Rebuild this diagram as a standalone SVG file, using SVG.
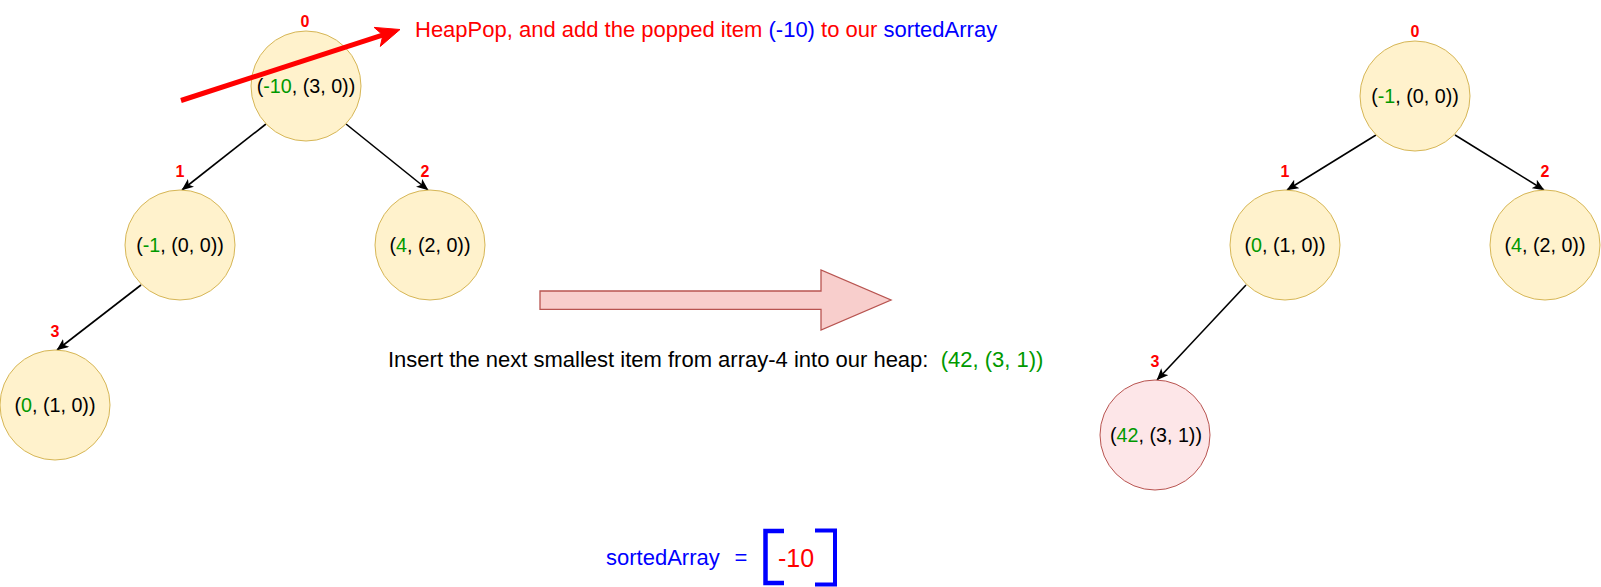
<svg xmlns="http://www.w3.org/2000/svg" width="1601" height="587" viewBox="0 0 1601 587">
<style>
text{font-family:"Liberation Sans",Arial,Helvetica,sans-serif}
.node{fill:#fff2cc;stroke:#d6b656;stroke-width:1}
.pink{fill:#fde6e8;stroke:#b85450;stroke-width:1}
.nt{font-size:19.7px;fill:#000;text-anchor:middle}
.g{fill:#009900}
.idx{font-size:16px;font-weight:bold;fill:#ff0000;text-anchor:middle}
.edge{stroke:#000;stroke-width:1.6;fill:none;marker-end:url(#ah)}
.big{font-size:22px}
</style>
<defs>
<marker id="ah" viewBox="0 0 12 10" refX="11.5" refY="5" markerWidth="12" markerHeight="10" markerUnits="userSpaceOnUse" orient="auto">
<path d="M0,0 L12,5 L0,10 L3,5 Z" fill="#000"/>
</marker>
</defs>
<rect width="1601" height="587" fill="#fff"/>

<g id="connectors">
<line class="edge" x1="266" y1="124" x2="182" y2="190"/>
<line class="edge" x1="346" y1="124" x2="428" y2="190"/>
<line class="edge" x1="141" y1="285" x2="57" y2="350"/>
<line class="edge" x1="1376" y1="135" x2="1287" y2="190"/>
<line class="edge" x1="1455" y1="135" x2="1544" y2="190"/>
<line class="edge" x1="1246" y1="285" x2="1157" y2="380"/>
</g>

<g id="L0"><circle class="node" cx="306" cy="86" r="55"/><text class="nt" x="306" y="93">(<tspan class="g">-10</tspan>, (3, 0))</text><text class="idx" x="305" y="27">0</text></g>
<g id="L1"><circle class="node" cx="180" cy="245" r="55"/><text class="nt" x="180" y="252">(<tspan class="g">-1</tspan>, (0, 0))</text><text class="idx" x="180" y="177">1</text></g>
<g id="L2"><circle class="node" cx="430" cy="245" r="55"/><text class="nt" x="430" y="252">(<tspan class="g">4</tspan>, (2, 0))</text><text class="idx" x="425" y="177">2</text></g>
<g id="L3"><circle class="node" cx="55" cy="405" r="55"/><text class="nt" x="55" y="412">(<tspan class="g">0</tspan>, (1, 0))</text><text class="idx" x="55" y="337">3</text></g>

<g id="R0"><circle class="node" cx="1415" cy="96" r="55"/><text class="nt" x="1415" y="103">(<tspan class="g">-1</tspan>, (0, 0))</text><text class="idx" x="1415" y="37">0</text></g>
<g id="R1"><circle class="node" cx="1285" cy="245" r="55"/><text class="nt" x="1285" y="252">(<tspan class="g">0</tspan>, (1, 0))</text><text class="idx" x="1285" y="177">1</text></g>
<g id="R2"><circle class="node" cx="1545" cy="245" r="55"/><text class="nt" x="1545" y="252">(<tspan class="g">4</tspan>, (2, 0))</text><text class="idx" x="1545" y="177">2</text></g>
<g id="R3"><circle class="pink" cx="1155" cy="435" r="55"/><text class="nt" x="1156" y="442">(<tspan class="g">42</tspan>, (3, 1))</text><text class="idx" x="1155" y="367">3</text></g>

<g id="popArrow">
<line x1="181" y1="100.5" x2="384" y2="34.6" stroke="#ff0000" stroke-width="5"/>
<path d="M400,29.5 L380.3,46.4 L382.9,35 L374.1,27.4 Z" fill="#ff0000" stroke="#ff0000" stroke-width="1"/>
</g>
<g id="popText"><text class="big" x="415" y="37" fill="#ff0000">HeapPop, and add the popped item <tspan fill="#0000ff">(-10)</tspan> to our <tspan fill="#0000ff">sortedArray</tspan></text></g>

<g id="blockArrow">
<path d="M540,291 L821,291 L821,270 L891,300 L821,330 L821,309.3 L540,309.3 Z" fill="#f8cecc" stroke="#b85450" stroke-width="1.3"/>
</g>
<g id="insertText"><text class="big" x="388" y="366.5" xml:space="preserve">Insert the next smallest item from array-4 into our heap:  <tspan fill="#009900">(42, (3, 1))</tspan></text></g>

<g id="sortedArray">
<text class="big" x="606" y="565" fill="#0000ff">sortedArray</text>
<text class="big" x="741" y="565" fill="#0000ff" text-anchor="middle">=</text>
<path d="M784,531 L765.5,531 L765.5,583 L784,583" fill="none" stroke="#0000ff" stroke-width="4.5"/>
<path d="M815,530.5 L835,530.5 L835,584.5 L815,584.5" fill="none" stroke="#0000ff" stroke-width="4"/>
<text x="796" y="567" font-size="25px" fill="#ff0000" text-anchor="middle">-10</text>
</g>
</svg>
